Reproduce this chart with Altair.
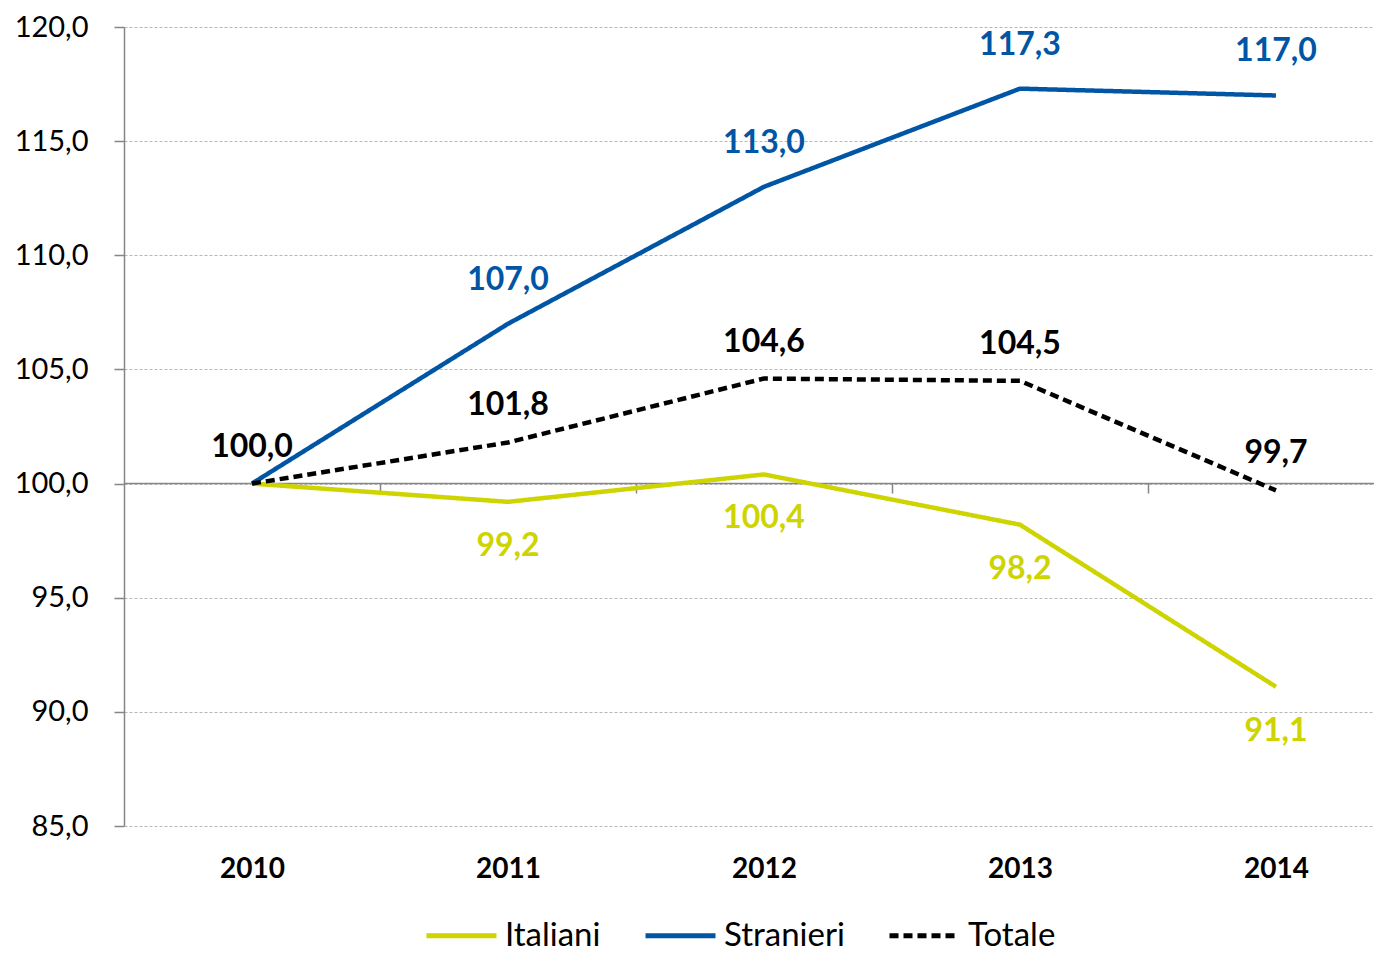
import altair as alt
import pandas as pd

years = [2010, 2011, 2012, 2013, 2014]
italiani = [100.0, 99.2, 100.4, 98.2, 91.1]
stranieri = [100.0, 107.0, 113.0, 117.3, 117.0]
totale = [100.0, 101.8, 104.6, 104.5, 99.7]
series_names = ["Italiani", "Stranieri", "Totale"]
series_colors = ["#CDD400", "#0055A4", "#000000"]
series_dash = [[1, 0], [1, 0], [9, 5]]
show_label = {
    "Italiani": [False, True, True, True, True],
    "Stranieri": [False, True, True, True, True],
    "Totale": [True, True, True, True, True],
}

rows = []
for name, vals in zip(series_names, [italiani, stranieri, totale]):
    for y, v, s in zip(years, vals, show_label[name]):
        rows.append({"anno": y, "valore": v, "serie": name,
                     "etichetta": f"{v:.1f}".replace(".", ","), "mostra": s})
df = pd.DataFrame(rows)

FONT = "Lato"
xscale = alt.Scale(domain=[2009.5, 2014.383], nice=False, zero=False)
yscale = alt.Scale(domain=[85, 120], nice=False, zero=False)

color = alt.Color("serie:N", scale=alt.Scale(domain=series_names, range=series_colors),
                  legend=alt.Legend(title=None, orient="none", legendX=300, legendY=871,
                                    direction="horizontal", symbolType="stroke",
                                    symbolSize=4900, symbolStrokeWidth=5,
                                    labelFontSize=33, labelFont=FONT, labelColor="#000",
                                    labelOffset=6, columnPadding=34, padding=0))
dash = alt.StrokeDash("serie:N", scale=alt.Scale(domain=series_names, range=series_dash),
                      legend=None)

base = alt.Chart(df)

lines = base.mark_line(strokeWidth=4.5).encode(
    x=alt.X("anno:Q", scale=xscale,
            axis=alt.Axis(values=years, title=None, ticks=False, domain=False, grid=False,
                          labelFontSize=28, labelFont=FONT, labelFontWeight="bold",
                          labelColor="#000", labelPadding=29, format="d")),
    y=alt.Y("valore:Q", scale=yscale,
            axis=alt.Axis(values=[85, 90, 95, 100, 105, 110, 115, 120], title=None,
                          labelExpr="replace(format(datum.value, '.1f'), '.', ',')",
                          labelFontSize=29, labelFont=FONT, labelColor="#000",
                          labelPadding=26, tickSize=10, tickColor="#868686",
                          domainColor="#868686", domainWidth=1.5, tickWidth=1.5,
                          grid=True, gridColor="#b8b8b8", gridDash=[3, 2], gridWidth=1)),
    color=color,
    strokeDash=dash,
)

baseline = base.mark_rule(opacity=0).encode(
    x=alt.X("anno:Q", scale=xscale,
            axis=alt.Axis(values=[2010.5, 2011.5, 2012.5, 2013.5], title=None, labels=False,
                          domainColor="#868686", domainWidth=1.5, tickColor="#868686",
                          tickWidth=1.5, tickSize=10, grid=False, offset=-343,
                          orient="bottom")),
)

def labels(name, dy, col):
    return base.transform_filter(
        (alt.datum.serie == name) & alt.datum.mostra
    ).mark_text(dy=dy, font=FONT, fontSize=32, fontWeight="bold", color=col).encode(
        x=alt.X("anno:Q", scale=xscale, axis=None),
        y=alt.Y("valore:Q", scale=yscale),
        text="etichetta:N")

chart = alt.layer(
    lines, baseline,
    labels("Italiani", 44, series_colors[0]),
    labels("Stranieri", -44, series_colors[1]),
    labels("Totale", -37, series_colors[2]),
).resolve_axis(x="independent").properties(
    width=1250, height=799,
    autosize=alt.AutoSizeParams(type="none"),
    padding={"left": 116, "top": 19, "right": 0, "bottom": 131},
).configure_view(stroke=None)

chart.save("out.html", embed_options={"renderer": "svg", "actions": False})
